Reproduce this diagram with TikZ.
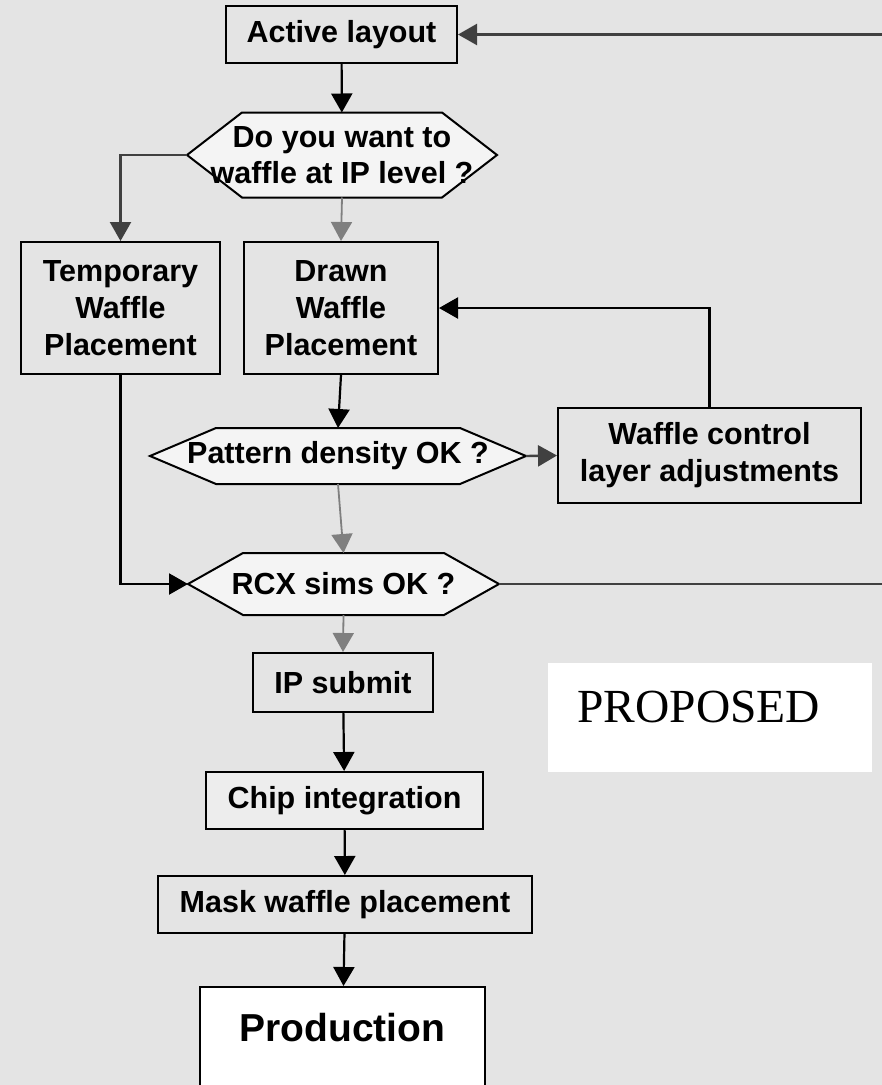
\documentclass[tikz,border=0pt]{standalone}
\usepackage{fontspec}
\setmainfont{Liberation Sans}
\newfontfamily\timesfam{Liberation Serif}
\usetikzlibrary{calc,arrows.meta,backgrounds}
\definecolor{fondo}{HTML}{E4E4E4}
\definecolor{hexfill}{HTML}{F4F4F4}
\definecolor{chipfill}{HTML}{EDEDED}
\definecolor{grisosc}{HTML}{404040}
\definecolor{grismed}{HTML}{7F7F7F}

\begin{document}
\begin{tikzpicture}[x=1pt,y=-1pt,>={Triangle[length=19pt,width=21pt]},
    caja/.style={draw=black,line width=2pt,inner sep=0pt,align=center,
                 font=\bfseries\fontsize{30.5}{37}\selectfont},
    pregunta/.style={caja,draw=none,outer sep=0pt},
    hexa/.style={draw=black,line width=2pt,fill=hexfill},
    flecha/.style={->,line width=2.2pt,black},
    flechaosc/.style={->,line width=2.4pt,grisosc},
    flechagris/.style={->,line width=1.8pt,grismed}]
    \useasboundingbox (0,0) rectangle (882,1085);
    % --- columna principal ---
    \node[caja,minimum width=231pt,minimum height=57pt] (active) at (341.5,34.5) {Active layout};
    \node[pregunta,minimum width=310pt,minimum height=85pt,font=\bfseries\fontsize{30.5}{36}\selectfont]
         (ask) at (342,155) {Do you want to\\waffle at IP level ?};
    \node[caja,minimum width=199pt,minimum height=132pt] (temp) at (120.5,308) {Temporary\\Waffle\\Placement};
    \node[caja,minimum width=194pt,minimum height=132pt] (drawn) at (341,308) {Drawn\\Waffle\\Placement};
    \node[pregunta,minimum width=376pt,minimum height=56pt] (dens) at (338,456) {Pattern density OK ?};
    \node[caja,minimum width=303pt,minimum height=95pt] (ctrl) at (709.5,455.5) {Waffle control\\layer adjustments};
    \node[pregunta,minimum width=311pt,minimum height=62pt] (rcx) at (343.5,584) {RCX sims OK ?};
    \node[caja,minimum width=180pt,minimum height=59pt] (ip) at (343,682.5) {IP submit};
    \node[caja,fill=chipfill,minimum width=277pt,minimum height=57pt] (chip) at (344.5,800.5) {Chip integration};
    \node[caja,minimum width=374pt,minimum height=57pt] (mask) at (345,904.5) {Mask waffle placement};
    \node[caja,fill=white,anchor=north,minimum width=285pt,text height=54pt,text depth=55pt,
          font=\bfseries\fontsize{39}{45}\selectfont] (prod) at (342.5,986) {Production};
    % --- sello ---
    \node[fill=white,anchor=north west,inner xsep=29pt,inner ysep=0pt,text width=266pt,align=left,
          text height=59pt,text depth=50pt,font=\timesfam\fontsize{47.5}{50}\selectfont]
         (prop) at (548,663) {PROPOSED};
    % --- fondo y hexagonos ---
    \begin{scope}[on background layer]
      \fill[fondo] (0,0) rectangle (882,1085);
      \foreach \h/\c in {ask/55,dens/66,rcx/55}{
        \draw[hexa] (\h.west) -- ($(\h.north west)+(\c,0)$) -- ($(\h.north east)+(-\c,0)$)
              -- (\h.east) -- ($(\h.south east)+(-\c,0)$) -- ($(\h.south west)+(\c,0)$) -- cycle;
      }
    \end{scope}
    % --- conectores ---
    \coordinate (back) at (910,0);
    \draw[flecha] (active) -- (ask);
    \draw[flechaosc] (ask.west) -| (temp.north);
    \draw[flechagris] (ask.south) -- (drawn.north);
    \draw[flecha] (drawn.south) -- (dens.north);
    \draw[flechaosc] (dens.east) -- (ctrl.west);
    \draw[flecha] (ctrl.north) |- (drawn.east);
    \draw[flechagris] (dens.south) -- (rcx.north);
    \draw[flecha] (temp.south) |- (rcx.west);
    \draw[flechaosc] (rcx.east) -- (rcx.east -| back) -- (active.east -| back) -- (active.east);
    \draw[flechagris] (rcx.south) -- (ip.north);
    \draw[flecha] (ip) -- (chip);
    \draw[flecha] (chip) -- (mask);
    \draw[flecha] (mask) -- (prod);
\end{tikzpicture}
\end{document}
